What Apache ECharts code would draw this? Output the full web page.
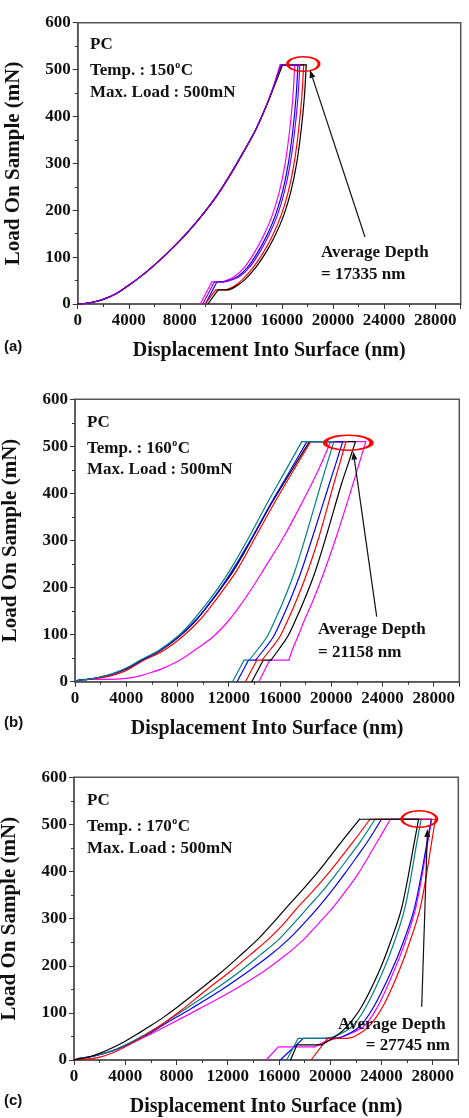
<!DOCTYPE html>
<html><head><meta charset="utf-8">
<script src="https://cdn.jsdelivr.net/npm/echarts@6/dist/echarts.min.js"></script>
<style>html,body{margin:0;padding:0;background:#fff;}#c{width:469px;height:1118px;}</style>
</head><body><div id="c"></div>
<script>
// ---------- DATA ----------
var xTicks = [0, 4000, 8000, 12000, 16000, 20000, 24000, 28000];
var yTicks = [0, 100, 200, 300, 400, 500, 600];
var panelLabels = ['(a)', '(b)', '(c)'];
var temps = ['150', '160', '170'];
var avgDepths = ['17335', '21158', '27745'];

// Panel (a) 150°C — shared loading branch; per curve: loading end, unloading branch, low-load hold + final drop
var aLoad = [[0,0],[500,1],[1000,3],[2000,10],[3000,22],[4000,40],[5000,60],[6000,83],[7000,108],[8000,135],[9000,165],[10000,198],[11000,235],[12000,278],[13000,325],[14000,375],[15000,438]];
var aBlackEnd = [16050,510], aRedEnd = [16000,510], aVioletEnd = [15900,510], aBlueEnd = [15950,510], aMagentaEnd = [15850,510];
var aBlackUnload   = [[17900,510],[17750,440],[17500,370],[17150,300],[16700,240],[16150,190],[15500,148],[14750,110],[13950,78],[13100,52],[12300,36],[11800,30]];
var aRedUnload     = [[17700,510],[17550,440],[17300,370],[16950,300],[16500,240],[15950,190],[15300,148],[14550,110],[13750,78],[12900,52],[12150,36],[11600,30]];
var aVioletUnload  = [[17400,510],[17250,440],[17000,370],[16650,300],[16200,240],[15650,190],[15000,148],[14250,110],[13450,78],[12650,58],[11900,50],[11400,47]];
var aBlueUnload    = [[17250,510],[17100,440],[16850,370],[16500,300],[16050,240],[15500,190],[14850,148],[14100,110],[13300,78],[12500,58],[11800,50],[11400,47]];
var aMagentaUnload = [[17000,510],[16850,440],[16600,370],[16250,300],[15800,240],[15250,190],[14600,148],[13850,110],[13050,78],[12250,58],[11600,50],[11200,47]];
var aBlackTail = [[11000,30],[10200,0]], aRedTail = [[10800,30],[10000,0]], aVioletTail = [[10700,47],[9800,0]], aBlueTail = [[10900,47],[10000,0]], aMagentaTail = [[10500,47],[9600,0]];

// Panel (b) 160°C
var bTealLoad    = [[0,0],[300,3],[1000,5],[2000,10],[3000,18],[4000,29],[5100,46],[6500,66],[8000,96],[9200,130],[10300,167],[11200,200],[12100,237],[13600,308],[15000,379],[16300,442],[17700,510]];
var bBlueLoad    = [[0,0],[300,3],[1000,5],[2000,10],[3000,17],[4000,28],[5200,46],[6600,66],[8100,96],[9400,130],[10500,167],[11400,200],[12300,237],[13850,308],[15300,379],[16700,444],[18100,510]];
var bBlackLoad   = [[0,0],[300,3],[1000,5],[2000,10],[3000,17],[4000,27],[5200,45],[6600,65],[8100,95],[9400,129],[10500,166],[11450,200],[12400,237],[13900,308],[15350,379],[16800,444],[18300,510]];
var bRedLoad     = [[0,0],[300,3],[1000,5],[2000,8],[3000,14],[4000,24],[5400,46],[6900,66],[8400,96],[9700,130],[10800,167],[11700,200],[12650,237],[14100,308],[15550,379],[16950,444],[18400,510]];
var bMagentaLoad = [[0,0],[300,4],[1000,5],[2500,5],[4000,7],[5000,12],[6000,20],[7000,30],[8200,46],[9500,70],[10800,96],[12000,130],[12900,162],[13800,198],[14700,237],[16300,308],[17700,379],[19000,450],[19950,510]];
var bTealUnload    = [[20200,510],[19700,465],[19200,420],[18000,308],[17100,230],[16200,167],[15600,130],[15000,96],[14300,70],[13600,46]];
var bBlueUnload    = [[20900,510],[20380,465],[19850,420],[18550,308],[17600,230],[16700,167],[16100,130],[15500,96],[14800,70],[14100,46]];
var bBlackUnload   = [[21900,510],[21350,465],[20800,420],[19600,308],[18700,230],[17800,167],[17200,130],[16600,96],[15950,70],[15300,46]];
var bRedUnload     = [[21150,510],[20680,465],[20200,420],[19050,308],[18100,230],[17200,167],[16600,130],[16000,96],[15300,70],[14600,46]];
var bMagentaUnload = [[22700,510],[22200,465],[21700,420],[20400,308],[19400,230],[18500,167],[17900,130],[17400,96],[17000,70],[16700,46]];
var bTealTail = [[13200,46],[12300,0]], bBlueTail = [[13550,46],[12650,0]], bBlackTail = [[14700,46],[13800,0]], bRedTail = [[14200,46],[13300,0]], bMagentaTail = [[15200,46],[14350,0]];

// Panel (c) 170°C
var cBlackLoad   = [[0,0],[500,3],[1000,5],[2000,14],[3000,26],[4000,40],[5000,56],[6000,73],[7000,91],[8000,111],[9700,147],[11400,184],[12900,220],[14300,255],[15500,290],[16600,324],[17800,360],[18950,396],[20000,432],[21000,467],[22300,511]];
var cRedLoad     = [[0,0],[1000,2],[2000,6],[3000,15],[4000,28],[5000,43],[6000,60],[7000,78],[8400,106],[10300,148],[12200,188],[13700,222],[15200,257],[16400,290],[17500,325],[18700,360],[19850,396],[20900,432],[21900,467],[23100,511]];
var cTealLoad    = [[0,0],[500,4],[1500,8],[3000,20],[4000,32],[5000,46],[6000,61],[7000,78],[8800,110],[10900,148],[12950,188],[14500,222],[15950,255],[17150,290],[18300,325],[19450,360],[20500,396],[21500,432],[22450,467],[23500,511]];
var cBlueLoad    = [[0,0],[500,4],[1500,8],[3000,19],[4000,31],[5000,44],[6000,58],[7000,75],[9200,110],[11400,147],[13600,188],[15200,220],[16700,255],[17950,290],[19100,325],[20150,360],[21150,396],[22100,432],[23000,467],[24000,511]];
var cMagentaLoad = [[0,0],[500,4],[1500,8],[3000,19],[4000,30],[5000,42],[6000,55],[7000,69],[9800,109],[12300,146],[14800,188],[16400,220],[17900,255],[19100,290],[20250,325],[21250,360],[22200,396],[23000,432],[23750,467],[24700,511]];
var cBlackUnload   = [[26900,511],[26600,467],[25600,325],[24700,250],[23750,184],[22450,113],[21300,71],[20400,50],[19300,32]];
var cRedUnload     = [[28200,511],[27950,467],[27050,325],[26200,250],[25300,184],[24100,113],[23000,71],[21900,50],[21300,46]];
var cTealUnload    = [[27100,511],[26800,467],[25850,325],[25000,250],[24050,184],[22800,113],[21700,71],[20300,50],[19200,46]];
var cBlueUnload    = [[27900,511],[27600,467],[26600,325],[25700,250],[24700,184],[23400,113],[22300,71],[21000,50],[20100,46]];
var cMagentaUnload = [[27900,511],[27650,467],[26700,325],[25850,250],[24900,184],[23700,113],[22600,71],[21000,50],[19700,40],[18800,28]];
var cBlackTail = [[17400,32],[16900,0]], cRedTail = [[19800,46],[18500,0]], cTealTail = [[17500,46],[16600,0]], cBlueTail = [[17900,46],[16100,0]], cMagentaTail = [[15950,28],[15000,0]];

// ---------- STYLE / LAYOUT ----------
var COL = {black:'#000000', red:'#ff0000', blue:'#0000ff', teal:'#008080', magenta:'#ff00ff', violet:'#8a00e6'};
var grids = [
  {left:77.7, top:22.7, width:383, height:281.3},
  {left:75, top:399.3, width:384.3, height:282.4},
  {left:74, top:777.3, width:384.3, height:282.7}
];
var serif = "'Liberation Serif','Times New Roman',serif";
var axisCol = '#555';

var panels = [
  [[COL.magenta, aLoad.concat([aMagentaEnd]), aMagentaUnload, aMagentaTail],
   [COL.blue,    aLoad.concat([aBlueEnd]),    aBlueUnload,    aBlueTail],
   [COL.red,     aLoad.concat([aRedEnd]),     aRedUnload,     aRedTail],
   [COL.black,   aLoad.concat([aBlackEnd]),   aBlackUnload,   aBlackTail],
   [COL.violet,  aLoad.concat([aVioletEnd]),  aVioletUnload,  aVioletTail]],
  [[COL.magenta, bMagentaLoad, bMagentaUnload, bMagentaTail],
   [COL.black,   bBlackLoad,   bBlackUnload,   bBlackTail],
   [COL.red,     bRedLoad,     bRedUnload,     bRedTail],
   [COL.blue,    bBlueLoad,    bBlueUnload,    bBlueTail],
   [COL.teal,    bTealLoad,    bTealUnload,    bTealTail]],
  [[COL.magenta, cMagentaLoad, cMagentaUnload, cMagentaTail],
   [COL.blue,    cBlueLoad,    cBlueUnload,    cBlueTail],
   [COL.teal,    cTealLoad,    cTealUnload,    cTealTail],
   [COL.red,     cRedLoad,     cRedUnload,     cRedTail],
   [COL.black,   cBlackLoad,   cBlackUnload,   cBlackTail]]
];

var xAxes = [], yAxes = [], series = [], gridOpts = [];
function seg(i, color, data, smooth){
  series.push({type:'line', xAxisIndex:i, yAxisIndex:i, data:data, showSymbol:false, symbol:'none',
    smooth:smooth ? 0.35 : false,
    lineStyle:{color:color, width:1.2, cap:'round', join:'round'}, itemStyle:{color:color}, animation:false, silent:true, z:2});
}
grids.forEach(function(g, i){
  gridOpts.push({left:g.left, top:g.top, width:g.width, height:g.height, containLabel:false, outerBoundsMode:'none',
    show:true, borderColor:axisCol, borderWidth:1.5, backgroundColor:'transparent'});
  xAxes.push({gridIndex:i, type:'value', min:0, max:30000, interval:4000,
    axisLine:{show:true, onZero:false, lineStyle:{color:axisCol, width:1.5}},
    axisTick:{show:true, length:5, lineStyle:{color:'#333', width:1}},
    minorTick:{show:true, splitNumber:2, length:3, lineStyle:{color:'#333'}},
    splitLine:{show:false},
    axisLabel:{showMaxLabel:false, margin:8, color:'#111', fontFamily:serif, fontWeight:'bold', fontSize:17,
      formatter:function(v){ return xTicks.indexOf(v) >= 0 ? String(v) : ''; }},
    name:'Displacement Into Surface (nm)', nameLocation:'middle', nameGap:37,
    nameTextStyle:{color:'#111', fontFamily:serif, fontWeight:'bold', fontSize:20}
  });
  yAxes.push({gridIndex:i, type:'value', min:0, max:600, interval:100,
    axisLine:{show:true, onZero:false, lineStyle:{color:axisCol, width:1.5}},
    axisTick:{show:true, length:5, lineStyle:{color:'#333', width:1}},
    minorTick:{show:true, splitNumber:2, length:3, lineStyle:{color:'#333'}},
    splitLine:{show:false},
    axisLabel:{margin:7, color:'#111', fontFamily:serif, fontWeight:'bold', fontSize:17,
      formatter:function(v){ return yTicks.indexOf(v) >= 0 ? String(v) : ''; }},
    name:'Load On Sample (mN)', nameLocation:'middle', nameGap:54,
    nameTextStyle:{color:'#111', fontFamily:serif, fontWeight:'bold', fontSize:21}
  });
  panels[i].forEach(function(c){
    var load = c[1], unload = c[2], tail = c[3];
    seg(i, c[0], load, true);
    seg(i, c[0], [load[load.length-1], unload[0]], false);
    seg(i, c[0], unload, true);
    seg(i, c[0], [unload[unload.length-1]].concat(tail), false);
  });
});

// ---------- ANNOTATIONS ----------
var txtPos = [
  {pc:[90,45], temp:[90,71], max:[90,93], avg:[321,253], eq:[321,275], eqAlign:'left', lab:[4,347], ell:[303.3,64,15.7,7.3], arr:[365,237,310,70]},
  {pc:[87,423], temp:[87,449], max:[87,470], avg:[318,630], eq:[318,653], eqAlign:'left', lab:[4,723], ell:[348.3,442.7,23.3,7.5], arr:[376.7,616.7,353.3,451.7]},
  {pc:[87,801], temp:[87,827], max:[87,849], avg:[338,1025], eq:[450,1046], eqAlign:'right', lab:[4,1101], ell:[419.3,819,17.5,8.3], arr:[421.7,1006.7,427.5,829]}
];
var measureCtx = document.createElement('canvas').getContext('2d');
function textWidth(s, size){ measureCtx.font = 'bold ' + size + 'px ' + serif; return measureCtx.measureText(s).width; }
var graphics = [];
function txt(x, y, s, align, size){
  graphics.push({type:'text', x:x, y:y, z:10, silent:true,
    style:{text:s, fontFamily:serif, fontWeight:'bold', fontSize:size||17, fill:'#111', align:align||'left', verticalAlign:'middle'}});
}
txtPos.forEach(function(p, i){
  txt(p.pc[0], p.pc[1], 'PC');
  var base = 'Temp. : ' + temps[i];
  var w1 = textWidth(base, 17), w2 = textWidth('o', 10);
  txt(p.temp[0], p.temp[1], base);
  txt(p.temp[0] + w1 + 0.5, p.temp[1] - 6, 'o', 'left', 10);
  txt(p.temp[0] + w1 + w2 + 1, p.temp[1], 'C');
  txt(p.max[0], p.max[1], 'Max. Load : 500mN');
  txt(p.avg[0], p.avg[1], 'Average Depth');
  txt(p.eq[0], p.eq[1], '= ' + avgDepths[i] + ' nm', p.eqAlign);
  graphics.push({type:'text', x:p.lab[0], y:p.lab[1], z:10, silent:true,
    style:{text:panelLabels[i], fontFamily:"'Liberation Sans',Arial,sans-serif", fontWeight:'bold', fontSize:15, fill:'#111', verticalAlign:'middle'}});
  var e = p.ell;
  graphics.push({type:'circle', x:e[0], y:e[1], scaleX:e[2]/e[3], z:9, silent:true,
    shape:{cx:0, cy:0, r:e[3]}, style:{fill:'none', stroke:'#ff0000', lineWidth:1.4, strokeNoScale:true}});
  var a = p.arr, dx = a[2]-a[0], dy = a[3]-a[1], L = Math.sqrt(dx*dx+dy*dy), ux = dx/L, uy = dy/L;
  var hl = 8, hw = 3;
  var bx = a[2]-ux*hl, by = a[3]-uy*hl;
  graphics.push({type:'line', z:9, silent:true, shape:{x1:a[0], y1:a[1], x2:bx, y2:by}, style:{stroke:'#111', lineWidth:1.2}});
  graphics.push({type:'polygon', z:9, silent:true, shape:{points:[[a[2],a[3]],[bx-uy*hw, by+ux*hw],[bx+uy*hw, by-ux*hw]]}, style:{fill:'#111'}});
});

var chart = echarts.init(document.getElementById('c'), null, {renderer:'canvas'});
chart.setOption({
  animation:false, backgroundColor:'#fff',
  grid:gridOpts, xAxis:xAxes, yAxis:yAxes, series:series, graphic:graphics
});
</script></body></html>
